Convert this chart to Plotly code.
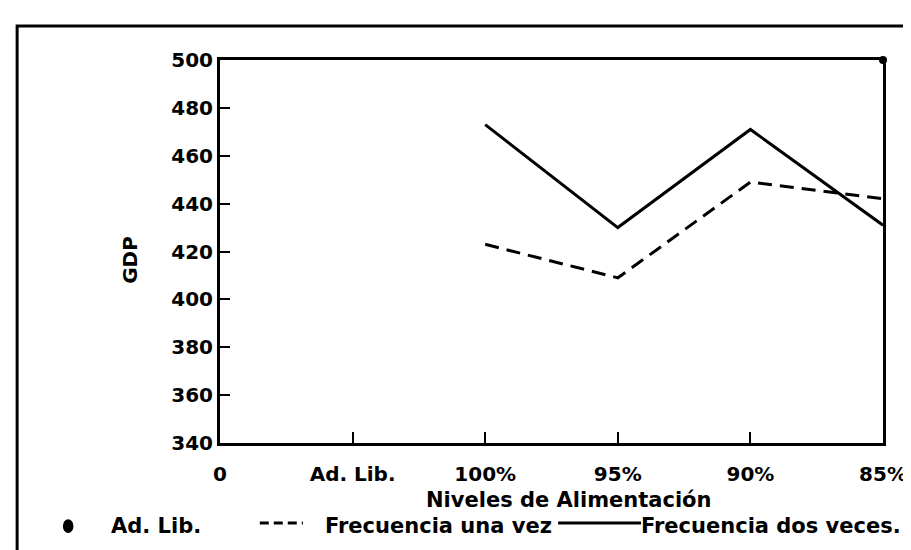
import plotly.graph_objects as go

# data
niveles = ["0", "Ad. Lib.", "100%", "95%", "90%", "85%"]
x_pos = [0, 1, 2, 3, 4, 5]
x_series = [2, 3, 4, 5]
frec_una_vez = [423, 409, 449, 442]
frec_dos_veces = [473, 430, 471, 431]
ad_lib_x = [5]
ad_lib_y = [500]

FONT = "DejaVu Sans, Arial, sans-serif"

fig = go.Figure()
fig.add_trace(go.Scatter(
    x=ad_lib_x, y=ad_lib_y, mode="markers", name="Ad. Lib.",
    marker=dict(color="black", size=8), cliponaxis=False
))
fig.add_trace(go.Scatter(
    x=x_series, y=frec_una_vez, mode="lines", name="Frecuencia una vez",
    line=dict(color="black", width=3, dash="14px,8px")
))
fig.add_trace(go.Scatter(
    x=x_series, y=frec_dos_veces, mode="lines", name="Frecuencia dos veces.",
    line=dict(color="black", width=3)
))

fig.update_xaxes(
    range=[0, 5], tickvals=x_pos, ticktext=niveles,
    showline=True, mirror=True, linecolor="black", linewidth=3,
    ticks="inside", ticklen=11, tickwidth=2, tickcolor="black",
    ticklabelstandoff=11,
    showgrid=False, zeroline=False,
    tickfont=dict(family=FONT, size=20, color="black", weight="bold")
)
fig.update_yaxes(
    range=[340, 500], dtick=20,
    showline=True, mirror=True, linecolor="black", linewidth=3,
    ticks="inside", ticklen=10, tickwidth=2, tickcolor="black",
    showgrid=False, zeroline=False,
    tickfont=dict(family=FONT, size=20, color="black", weight="bold")
)

txt = dict(family=FONT, size=20, color="black", weight="bold")
fig.add_annotation(text="GDP", xref="paper", yref="paper", x=-0.157, y=0.478,
                   showarrow=False, textangle=-90, font=txt)
fig.add_annotation(text="Niveles de Alimentación", xref="paper", yref="paper",
                   x=0.527, y=-0.150, xanchor="center", yanchor="middle",
                   showarrow=False, font=dict(txt, size=21))

# legend drawn by hand, laid out as in the scan
ly = -0.217
leg = dict(txt, size=21)
fig.add_shape(type="circle", xref="paper", yref="paper",
              x0=-0.237, x1=-0.221, y0=ly - 0.018, y1=ly + 0.018,
              fillcolor="black", line=dict(color="black", width=0))
fig.add_annotation(text="Ad. Lib.", xref="paper", yref="paper", x=-0.168, y=ly,
                   xanchor="left", yanchor="middle", showarrow=False, font=leg)
fig.add_shape(type="line", xref="paper", yref="paper",
              x0=0.06, x1=0.125, y0=ly + 0.008, y1=ly + 0.008,
              line=dict(color="black", width=3, dash="9px,5px"))
fig.add_annotation(text="Frecuencia una vez", xref="paper", yref="paper", x=0.155, y=ly,
                   xanchor="left", yanchor="middle", showarrow=False, font=leg)
fig.add_shape(type="line", xref="paper", yref="paper",
              x0=0.51, x1=0.635, y0=ly + 0.008, y1=ly + 0.008,
              line=dict(color="black", width=3))
fig.add_annotation(text="Frecuencia dos veces.", xref="paper", yref="paper", x=0.632, y=ly,
                   xanchor="left", yanchor="middle", showarrow=False, font=leg)

# outer frame of the scanned figure
fig.add_shape(type="path", xref="paper", yref="paper",
              path="M -0.306,-0.5 L -0.306,1.089 L 1.1,1.089",
              line=dict(color="black", width=3))
fig.add_shape(type="line", xref="paper", yref="paper",
              x0=0.552, x1=1.1, y0=-0.287, y1=-0.287,
              line=dict(color="black", width=2))

fig.update_layout(
    width=911, height=550,
    margin=dict(l=212, r=29, t=52, b=115),
    plot_bgcolor="white", paper_bgcolor="white",
    showlegend=False
)

fig.write_html("out.html")
